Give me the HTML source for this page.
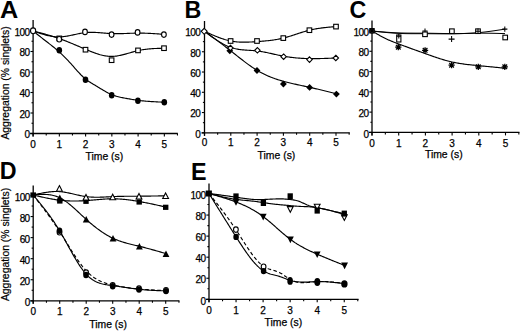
<!DOCTYPE html>
<html><head><meta charset="utf-8"><title>Aggregation figure</title>
<style>
html,body{margin:0;padding:0;background:#fff;width:520px;height:331px;overflow:hidden}
svg{display:block}
text{font-family:"Liberation Sans", sans-serif;fill:#000}
.tk{font-size:10px;stroke:#000;stroke-width:0.25px}
.tl{font-size:10.4px;stroke:#000;stroke-width:0.25px}
.yt{font-size:10.4px;stroke:#000;stroke-width:0.2px}
.lt{font-size:23.3px;font-weight:bold}
</style></head>
<body>
<svg width="520" height="331" viewBox="0 0 520 331">
<rect width="520" height="331" fill="#fff"/>
<line x1="33.1" y1="20" x2="33.1" y2="136.5" stroke="#000" stroke-width="1.3"/>
<line x1="30.1" y1="133.5" x2="177.8" y2="133.5" stroke="#000" stroke-width="1.3"/>
<line x1="30.5" y1="133.5" x2="33.1" y2="133.5" stroke="#000" stroke-width="1.1"/>
<line x1="31.5" y1="123.25" x2="33.1" y2="123.25" stroke="#000" stroke-width="1.1"/>
<line x1="30.5" y1="113" x2="33.1" y2="113" stroke="#000" stroke-width="1.1"/>
<line x1="31.5" y1="102.75" x2="33.1" y2="102.75" stroke="#000" stroke-width="1.1"/>
<line x1="30.5" y1="92.5" x2="33.1" y2="92.5" stroke="#000" stroke-width="1.1"/>
<line x1="31.5" y1="82.25" x2="33.1" y2="82.25" stroke="#000" stroke-width="1.1"/>
<line x1="30.5" y1="72" x2="33.1" y2="72" stroke="#000" stroke-width="1.1"/>
<line x1="31.5" y1="61.75" x2="33.1" y2="61.75" stroke="#000" stroke-width="1.1"/>
<line x1="30.5" y1="51.5" x2="33.1" y2="51.5" stroke="#000" stroke-width="1.1"/>
<line x1="31.5" y1="41.25" x2="33.1" y2="41.25" stroke="#000" stroke-width="1.1"/>
<line x1="30.5" y1="31" x2="33.1" y2="31" stroke="#000" stroke-width="1.1"/>
<line x1="33.1" y1="133.5" x2="33.1" y2="136.5" stroke="#000" stroke-width="1.1"/>
<line x1="46.23" y1="133.5" x2="46.23" y2="135.5" stroke="#000" stroke-width="1.1"/>
<line x1="59.35" y1="133.5" x2="59.35" y2="136.5" stroke="#000" stroke-width="1.1"/>
<line x1="72.47" y1="133.5" x2="72.47" y2="135.5" stroke="#000" stroke-width="1.1"/>
<line x1="85.6" y1="133.5" x2="85.6" y2="136.5" stroke="#000" stroke-width="1.1"/>
<line x1="98.72" y1="133.5" x2="98.72" y2="135.5" stroke="#000" stroke-width="1.1"/>
<line x1="111.85" y1="133.5" x2="111.85" y2="136.5" stroke="#000" stroke-width="1.1"/>
<line x1="124.97" y1="133.5" x2="124.97" y2="135.5" stroke="#000" stroke-width="1.1"/>
<line x1="138.1" y1="133.5" x2="138.1" y2="136.5" stroke="#000" stroke-width="1.1"/>
<line x1="151.22" y1="133.5" x2="151.22" y2="135.5" stroke="#000" stroke-width="1.1"/>
<line x1="164.35" y1="133.5" x2="164.35" y2="136.5" stroke="#000" stroke-width="1.1"/>
<line x1="177.47" y1="133.5" x2="177.47" y2="135.5" stroke="#000" stroke-width="1.1"/>
<text x="29.5" y="138.3" text-anchor="end" class="tk" letter-spacing="-0.6">0</text>
<text x="29.5" y="117.8" text-anchor="end" class="tk" letter-spacing="-0.6">20</text>
<text x="29.5" y="97.3" text-anchor="end" class="tk" letter-spacing="-0.6">40</text>
<text x="29.5" y="76.8" text-anchor="end" class="tk" letter-spacing="-0.6">60</text>
<text x="29.5" y="56.3" text-anchor="end" class="tk" letter-spacing="-0.6">80</text>
<text x="29.5" y="35.8" text-anchor="end" class="tk" letter-spacing="-0.6">100</text>
<text x="33.1" y="147.7" text-anchor="middle" class="tk">0</text>
<text x="59.35" y="147.7" text-anchor="middle" class="tk">1</text>
<text x="85.6" y="147.7" text-anchor="middle" class="tk">2</text>
<text x="111.85" y="147.7" text-anchor="middle" class="tk">3</text>
<text x="138.1" y="147.7" text-anchor="middle" class="tk">4</text>
<text x="164.35" y="147.7" text-anchor="middle" class="tk">5</text>
<text x="104.35" y="160.4" text-anchor="middle" class="tl">Time (s)</text>
<text x="0" y="18" class="lt" transform="scale(1.085 1)">A</text>
<text transform="translate(9 83) rotate(-90)" text-anchor="middle" class="yt">Aggregation (% singlets)</text>
<line x1="204.5" y1="21" x2="204.5" y2="135.8" stroke="#000" stroke-width="1.3"/>
<line x1="201.5" y1="132.8" x2="349.8" y2="132.8" stroke="#000" stroke-width="1.3"/>
<line x1="201.9" y1="132.8" x2="204.5" y2="132.8" stroke="#000" stroke-width="1.1"/>
<line x1="202.9" y1="122.67" x2="204.5" y2="122.67" stroke="#000" stroke-width="1.1"/>
<line x1="201.9" y1="112.54" x2="204.5" y2="112.54" stroke="#000" stroke-width="1.1"/>
<line x1="202.9" y1="102.41" x2="204.5" y2="102.41" stroke="#000" stroke-width="1.1"/>
<line x1="201.9" y1="92.28" x2="204.5" y2="92.28" stroke="#000" stroke-width="1.1"/>
<line x1="202.9" y1="82.15" x2="204.5" y2="82.15" stroke="#000" stroke-width="1.1"/>
<line x1="201.9" y1="72.02" x2="204.5" y2="72.02" stroke="#000" stroke-width="1.1"/>
<line x1="202.9" y1="61.89" x2="204.5" y2="61.89" stroke="#000" stroke-width="1.1"/>
<line x1="201.9" y1="51.76" x2="204.5" y2="51.76" stroke="#000" stroke-width="1.1"/>
<line x1="202.9" y1="41.63" x2="204.5" y2="41.63" stroke="#000" stroke-width="1.1"/>
<line x1="201.9" y1="31.5" x2="204.5" y2="31.5" stroke="#000" stroke-width="1.1"/>
<line x1="204.5" y1="132.8" x2="204.5" y2="135.8" stroke="#000" stroke-width="1.1"/>
<line x1="217.65" y1="132.8" x2="217.65" y2="134.8" stroke="#000" stroke-width="1.1"/>
<line x1="230.8" y1="132.8" x2="230.8" y2="135.8" stroke="#000" stroke-width="1.1"/>
<line x1="243.95" y1="132.8" x2="243.95" y2="134.8" stroke="#000" stroke-width="1.1"/>
<line x1="257.1" y1="132.8" x2="257.1" y2="135.8" stroke="#000" stroke-width="1.1"/>
<line x1="270.25" y1="132.8" x2="270.25" y2="134.8" stroke="#000" stroke-width="1.1"/>
<line x1="283.4" y1="132.8" x2="283.4" y2="135.8" stroke="#000" stroke-width="1.1"/>
<line x1="296.55" y1="132.8" x2="296.55" y2="134.8" stroke="#000" stroke-width="1.1"/>
<line x1="309.7" y1="132.8" x2="309.7" y2="135.8" stroke="#000" stroke-width="1.1"/>
<line x1="322.85" y1="132.8" x2="322.85" y2="134.8" stroke="#000" stroke-width="1.1"/>
<line x1="336" y1="132.8" x2="336" y2="135.8" stroke="#000" stroke-width="1.1"/>
<line x1="349.15" y1="132.8" x2="349.15" y2="134.8" stroke="#000" stroke-width="1.1"/>
<text x="200.2" y="137.7" text-anchor="end" class="tk" letter-spacing="-0.6">0</text>
<text x="200.2" y="117.44" text-anchor="end" class="tk" letter-spacing="-0.6">20</text>
<text x="200.2" y="97.18" text-anchor="end" class="tk" letter-spacing="-0.6">40</text>
<text x="200.2" y="76.92" text-anchor="end" class="tk" letter-spacing="-0.6">60</text>
<text x="200.2" y="56.66" text-anchor="end" class="tk" letter-spacing="-0.6">80</text>
<text x="200.2" y="36.4" text-anchor="end" class="tk" letter-spacing="-0.6">100</text>
<text x="204.5" y="145.7" text-anchor="middle" class="tk">0</text>
<text x="230.8" y="145.7" text-anchor="middle" class="tk">1</text>
<text x="257.1" y="145.7" text-anchor="middle" class="tk">2</text>
<text x="283.4" y="145.7" text-anchor="middle" class="tk">3</text>
<text x="309.7" y="145.7" text-anchor="middle" class="tk">4</text>
<text x="336" y="145.7" text-anchor="middle" class="tk">5</text>
<text x="276.45" y="159" text-anchor="middle" class="tl">Time (s)</text>
<text x="184.5" y="17.6" class="lt">B</text>
<line x1="372" y1="20.6" x2="372" y2="135.4" stroke="#000" stroke-width="1.3"/>
<line x1="369" y1="132.4" x2="519.5" y2="132.4" stroke="#000" stroke-width="1.3"/>
<line x1="369.4" y1="132.4" x2="372" y2="132.4" stroke="#000" stroke-width="1.1"/>
<line x1="370.4" y1="122.26" x2="372" y2="122.26" stroke="#000" stroke-width="1.1"/>
<line x1="369.4" y1="112.12" x2="372" y2="112.12" stroke="#000" stroke-width="1.1"/>
<line x1="370.4" y1="101.98" x2="372" y2="101.98" stroke="#000" stroke-width="1.1"/>
<line x1="369.4" y1="91.84" x2="372" y2="91.84" stroke="#000" stroke-width="1.1"/>
<line x1="370.4" y1="81.7" x2="372" y2="81.7" stroke="#000" stroke-width="1.1"/>
<line x1="369.4" y1="71.56" x2="372" y2="71.56" stroke="#000" stroke-width="1.1"/>
<line x1="370.4" y1="61.42" x2="372" y2="61.42" stroke="#000" stroke-width="1.1"/>
<line x1="369.4" y1="51.28" x2="372" y2="51.28" stroke="#000" stroke-width="1.1"/>
<line x1="370.4" y1="41.14" x2="372" y2="41.14" stroke="#000" stroke-width="1.1"/>
<line x1="369.4" y1="31" x2="372" y2="31" stroke="#000" stroke-width="1.1"/>
<line x1="372" y1="132.4" x2="372" y2="135.4" stroke="#000" stroke-width="1.1"/>
<line x1="385.35" y1="132.4" x2="385.35" y2="134.4" stroke="#000" stroke-width="1.1"/>
<line x1="398.7" y1="132.4" x2="398.7" y2="135.4" stroke="#000" stroke-width="1.1"/>
<line x1="412.05" y1="132.4" x2="412.05" y2="134.4" stroke="#000" stroke-width="1.1"/>
<line x1="425.4" y1="132.4" x2="425.4" y2="135.4" stroke="#000" stroke-width="1.1"/>
<line x1="438.75" y1="132.4" x2="438.75" y2="134.4" stroke="#000" stroke-width="1.1"/>
<line x1="452.1" y1="132.4" x2="452.1" y2="135.4" stroke="#000" stroke-width="1.1"/>
<line x1="465.45" y1="132.4" x2="465.45" y2="134.4" stroke="#000" stroke-width="1.1"/>
<line x1="478.8" y1="132.4" x2="478.8" y2="135.4" stroke="#000" stroke-width="1.1"/>
<line x1="492.15" y1="132.4" x2="492.15" y2="134.4" stroke="#000" stroke-width="1.1"/>
<line x1="505.5" y1="132.4" x2="505.5" y2="135.4" stroke="#000" stroke-width="1.1"/>
<line x1="518.85" y1="132.4" x2="518.85" y2="134.4" stroke="#000" stroke-width="1.1"/>
<text x="368.4" y="137.5" text-anchor="end" class="tk" letter-spacing="-0.6">0</text>
<text x="368.4" y="117.22" text-anchor="end" class="tk" letter-spacing="-0.6">20</text>
<text x="368.4" y="96.94" text-anchor="end" class="tk" letter-spacing="-0.6">40</text>
<text x="368.4" y="76.66" text-anchor="end" class="tk" letter-spacing="-0.6">60</text>
<text x="368.4" y="56.38" text-anchor="end" class="tk" letter-spacing="-0.6">80</text>
<text x="368.4" y="36.1" text-anchor="end" class="tk" letter-spacing="-0.6">100</text>
<text x="372" y="146.5" text-anchor="middle" class="tk">0</text>
<text x="398.7" y="146.5" text-anchor="middle" class="tk">1</text>
<text x="425.4" y="146.5" text-anchor="middle" class="tk">2</text>
<text x="452.1" y="146.5" text-anchor="middle" class="tk">3</text>
<text x="478.8" y="146.5" text-anchor="middle" class="tk">4</text>
<text x="505.5" y="146.5" text-anchor="middle" class="tk">5</text>
<text x="443.8" y="157.5" text-anchor="middle" class="tl">Time (s)</text>
<text x="349.5" y="18" class="lt">C</text>
<line x1="33.2" y1="185.4" x2="33.2" y2="303.8" stroke="#000" stroke-width="1.3"/>
<line x1="30.2" y1="300.8" x2="179.4" y2="300.8" stroke="#000" stroke-width="1.3"/>
<line x1="30.6" y1="300.8" x2="33.2" y2="300.8" stroke="#000" stroke-width="1.1"/>
<line x1="31.6" y1="290.27" x2="33.2" y2="290.27" stroke="#000" stroke-width="1.1"/>
<line x1="30.6" y1="279.74" x2="33.2" y2="279.74" stroke="#000" stroke-width="1.1"/>
<line x1="31.6" y1="269.21" x2="33.2" y2="269.21" stroke="#000" stroke-width="1.1"/>
<line x1="30.6" y1="258.68" x2="33.2" y2="258.68" stroke="#000" stroke-width="1.1"/>
<line x1="31.6" y1="248.15" x2="33.2" y2="248.15" stroke="#000" stroke-width="1.1"/>
<line x1="30.6" y1="237.62" x2="33.2" y2="237.62" stroke="#000" stroke-width="1.1"/>
<line x1="31.6" y1="227.09" x2="33.2" y2="227.09" stroke="#000" stroke-width="1.1"/>
<line x1="30.6" y1="216.56" x2="33.2" y2="216.56" stroke="#000" stroke-width="1.1"/>
<line x1="31.6" y1="206.03" x2="33.2" y2="206.03" stroke="#000" stroke-width="1.1"/>
<line x1="30.6" y1="195.5" x2="33.2" y2="195.5" stroke="#000" stroke-width="1.1"/>
<line x1="33.2" y1="300.8" x2="33.2" y2="303.8" stroke="#000" stroke-width="1.1"/>
<line x1="46.45" y1="300.8" x2="46.45" y2="302.8" stroke="#000" stroke-width="1.1"/>
<line x1="59.7" y1="300.8" x2="59.7" y2="303.8" stroke="#000" stroke-width="1.1"/>
<line x1="72.95" y1="300.8" x2="72.95" y2="302.8" stroke="#000" stroke-width="1.1"/>
<line x1="86.2" y1="300.8" x2="86.2" y2="303.8" stroke="#000" stroke-width="1.1"/>
<line x1="99.45" y1="300.8" x2="99.45" y2="302.8" stroke="#000" stroke-width="1.1"/>
<line x1="112.7" y1="300.8" x2="112.7" y2="303.8" stroke="#000" stroke-width="1.1"/>
<line x1="125.95" y1="300.8" x2="125.95" y2="302.8" stroke="#000" stroke-width="1.1"/>
<line x1="139.2" y1="300.8" x2="139.2" y2="303.8" stroke="#000" stroke-width="1.1"/>
<line x1="152.45" y1="300.8" x2="152.45" y2="302.8" stroke="#000" stroke-width="1.1"/>
<line x1="165.7" y1="300.8" x2="165.7" y2="303.8" stroke="#000" stroke-width="1.1"/>
<line x1="178.95" y1="300.8" x2="178.95" y2="302.8" stroke="#000" stroke-width="1.1"/>
<text x="29.6" y="306" text-anchor="end" class="tk" letter-spacing="-0.6">0</text>
<text x="29.6" y="284.94" text-anchor="end" class="tk" letter-spacing="-0.6">20</text>
<text x="29.6" y="263.88" text-anchor="end" class="tk" letter-spacing="-0.6">40</text>
<text x="29.6" y="242.82" text-anchor="end" class="tk" letter-spacing="-0.6">60</text>
<text x="29.6" y="221.76" text-anchor="end" class="tk" letter-spacing="-0.6">80</text>
<text x="29.6" y="200.7" text-anchor="end" class="tk" letter-spacing="-0.6">100</text>
<text x="33.2" y="314.9" text-anchor="middle" class="tk">0</text>
<text x="59.7" y="314.9" text-anchor="middle" class="tk">1</text>
<text x="86.2" y="314.9" text-anchor="middle" class="tk">2</text>
<text x="112.7" y="314.9" text-anchor="middle" class="tk">3</text>
<text x="139.2" y="314.9" text-anchor="middle" class="tk">4</text>
<text x="165.7" y="314.9" text-anchor="middle" class="tk">5</text>
<text x="108.1" y="327.9" text-anchor="middle" class="tl">Time (s)</text>
<text x="-0.2" y="178.7" class="lt">D</text>
<text transform="translate(9 244.5) rotate(-90)" text-anchor="middle" class="yt">Aggregation (% singlets)</text>
<line x1="209" y1="183.6" x2="209" y2="302.3" stroke="#000" stroke-width="1.3"/>
<line x1="206" y1="299.3" x2="358.6" y2="299.3" stroke="#000" stroke-width="1.3"/>
<line x1="206.4" y1="299.3" x2="209" y2="299.3" stroke="#000" stroke-width="1.1"/>
<line x1="207.4" y1="288.77" x2="209" y2="288.77" stroke="#000" stroke-width="1.1"/>
<line x1="206.4" y1="278.24" x2="209" y2="278.24" stroke="#000" stroke-width="1.1"/>
<line x1="207.4" y1="267.71" x2="209" y2="267.71" stroke="#000" stroke-width="1.1"/>
<line x1="206.4" y1="257.18" x2="209" y2="257.18" stroke="#000" stroke-width="1.1"/>
<line x1="207.4" y1="246.65" x2="209" y2="246.65" stroke="#000" stroke-width="1.1"/>
<line x1="206.4" y1="236.12" x2="209" y2="236.12" stroke="#000" stroke-width="1.1"/>
<line x1="207.4" y1="225.59" x2="209" y2="225.59" stroke="#000" stroke-width="1.1"/>
<line x1="206.4" y1="215.06" x2="209" y2="215.06" stroke="#000" stroke-width="1.1"/>
<line x1="207.4" y1="204.53" x2="209" y2="204.53" stroke="#000" stroke-width="1.1"/>
<line x1="206.4" y1="194" x2="209" y2="194" stroke="#000" stroke-width="1.1"/>
<line x1="209" y1="299.3" x2="209" y2="302.3" stroke="#000" stroke-width="1.1"/>
<line x1="222.53" y1="299.3" x2="222.53" y2="301.3" stroke="#000" stroke-width="1.1"/>
<line x1="236.05" y1="299.3" x2="236.05" y2="302.3" stroke="#000" stroke-width="1.1"/>
<line x1="249.57" y1="299.3" x2="249.57" y2="301.3" stroke="#000" stroke-width="1.1"/>
<line x1="263.1" y1="299.3" x2="263.1" y2="302.3" stroke="#000" stroke-width="1.1"/>
<line x1="276.62" y1="299.3" x2="276.62" y2="301.3" stroke="#000" stroke-width="1.1"/>
<line x1="290.15" y1="299.3" x2="290.15" y2="302.3" stroke="#000" stroke-width="1.1"/>
<line x1="303.68" y1="299.3" x2="303.68" y2="301.3" stroke="#000" stroke-width="1.1"/>
<line x1="317.2" y1="299.3" x2="317.2" y2="302.3" stroke="#000" stroke-width="1.1"/>
<line x1="330.73" y1="299.3" x2="330.73" y2="301.3" stroke="#000" stroke-width="1.1"/>
<line x1="344.25" y1="299.3" x2="344.25" y2="302.3" stroke="#000" stroke-width="1.1"/>
<line x1="357.77" y1="299.3" x2="357.77" y2="301.3" stroke="#000" stroke-width="1.1"/>
<text x="205.4" y="304.5" text-anchor="end" class="tk" letter-spacing="-0.6">0</text>
<text x="205.4" y="283.44" text-anchor="end" class="tk" letter-spacing="-0.6">20</text>
<text x="205.4" y="262.38" text-anchor="end" class="tk" letter-spacing="-0.6">40</text>
<text x="205.4" y="241.32" text-anchor="end" class="tk" letter-spacing="-0.6">60</text>
<text x="205.4" y="220.26" text-anchor="end" class="tk" letter-spacing="-0.6">80</text>
<text x="205.4" y="199.2" text-anchor="end" class="tk" letter-spacing="-0.6">100</text>
<text x="209" y="313.7" text-anchor="middle" class="tk">0</text>
<text x="236.05" y="313.7" text-anchor="middle" class="tk">1</text>
<text x="263.1" y="313.7" text-anchor="middle" class="tk">2</text>
<text x="290.15" y="313.7" text-anchor="middle" class="tk">3</text>
<text x="317.2" y="313.7" text-anchor="middle" class="tk">4</text>
<text x="344.25" y="313.7" text-anchor="middle" class="tk">5</text>
<text x="283.35" y="325.6" text-anchor="middle" class="tl">Time (s)</text>
<text x="191" y="179.7" class="lt">E</text>
<path d="M33.1 31 L34.1 31.35 L35.1 31.69 L36.11 32.03 L37.11 32.37 L38.11 32.71 L39.11 33.03 L40.11 33.36 L41.12 33.67 L42.12 33.98 L43.12 34.28 L44.12 34.57 L45.12 34.84 L46.12 35.11 L47.13 35.36 L48.13 35.59 L49.13 35.81 L50.13 36.01 L51.13 36.2 L52.14 36.36 L53.14 36.51 L54.14 36.63 L55.14 36.73 L56.14 36.81 L57.15 36.87 L58.15 36.9 L59.15 36.9 L60.15 36.88 L61.15 36.83 L62.16 36.76 L63.16 36.66 L64.16 36.54 L65.16 36.41 L66.16 36.26 L67.16 36.09 L68.17 35.91 L69.17 35.72 L70.17 35.52 L71.17 35.31 L72.17 35.1 L73.18 34.88 L74.18 34.66 L75.18 34.44 L76.18 34.22 L77.18 34.01 L78.19 33.8 L79.19 33.6 L80.19 33.4 L81.19 33.22 L82.19 33.05 L83.2 32.9 L84.2 32.76 L85.2 32.64 L86.2 32.54 L87.2 32.46 L88.2 32.41 L89.21 32.36 L90.21 32.34 L91.21 32.33 L92.21 32.33 L93.21 32.35 L94.22 32.38 L95.22 32.42 L96.22 32.47 L97.22 32.53 L98.22 32.6 L99.23 32.67 L100.23 32.75 L101.23 32.83 L102.23 32.91 L103.23 33 L104.24 33.08 L105.24 33.16 L106.24 33.24 L107.24 33.32 L108.24 33.39 L109.25 33.46 L110.25 33.52 L111.25 33.57 L112.25 33.62 L113.25 33.65 L114.25 33.67 L115.26 33.69 L116.26 33.69 L117.26 33.69 L118.26 33.68 L119.26 33.67 L120.27 33.65 L121.27 33.63 L122.27 33.6 L123.27 33.57 L124.27 33.53 L125.28 33.5 L126.28 33.46 L127.28 33.42 L128.28 33.38 L129.28 33.34 L130.29 33.3 L131.29 33.26 L132.29 33.23 L133.29 33.2 L134.29 33.17 L135.29 33.14 L136.3 33.12 L137.3 33.11 L138.3 33.1 L139.3 33.1 L140.3 33.1 L141.31 33.11 L142.31 33.13 L143.31 33.15 L144.31 33.17 L145.31 33.2 L146.32 33.24 L147.32 33.28 L148.32 33.32 L149.32 33.37 L150.32 33.42 L151.33 33.48 L152.33 33.54 L153.33 33.6 L154.33 33.66 L155.33 33.73 L156.33 33.8 L157.34 33.87 L158.34 33.94 L159.34 34.02 L160.34 34.09 L161.34 34.17 L162.35 34.24 L163.35 34.32 L164.35 34.4" fill="none" stroke="#000" stroke-width="1.15" stroke-linejoin="round"/>
<path d="M33.1 31 L34.1 31.26 L35.1 31.52 L36.11 31.78 L37.11 32.04 L38.11 32.3 L39.11 32.56 L40.11 32.83 L41.12 33.09 L42.12 33.36 L43.12 33.63 L44.12 33.91 L45.12 34.18 L46.12 34.46 L47.13 34.75 L48.13 35.03 L49.13 35.32 L50.13 35.62 L51.13 35.92 L52.14 36.23 L53.14 36.54 L54.14 36.85 L55.14 37.18 L56.14 37.51 L57.15 37.84 L58.15 38.18 L59.15 38.53 L60.15 38.88 L61.15 39.25 L62.16 39.62 L63.16 39.99 L64.16 40.37 L65.16 40.76 L66.16 41.15 L67.16 41.55 L68.17 41.95 L69.17 42.35 L70.17 42.76 L71.17 43.18 L72.17 43.59 L73.18 44.01 L74.18 44.43 L75.18 44.85 L76.18 45.28 L77.18 45.71 L78.19 46.13 L79.19 46.56 L80.19 46.99 L81.19 47.42 L82.19 47.85 L83.2 48.28 L84.2 48.7 L85.2 49.13 L86.2 49.55 L87.2 49.98 L88.2 50.39 L89.21 50.81 L90.21 51.21 L91.21 51.62 L92.21 52.01 L93.21 52.39 L94.22 52.76 L95.22 53.12 L96.22 53.47 L97.22 53.81 L98.22 54.13 L99.23 54.43 L100.23 54.72 L101.23 54.98 L102.23 55.23 L103.23 55.46 L104.24 55.67 L105.24 55.85 L106.24 56.01 L107.24 56.14 L108.24 56.25 L109.25 56.33 L110.25 56.38 L111.25 56.4 L112.25 56.39 L113.25 56.35 L114.25 56.28 L115.26 56.19 L116.26 56.06 L117.26 55.92 L118.26 55.75 L119.26 55.56 L120.27 55.36 L121.27 55.14 L122.27 54.9 L123.27 54.65 L124.27 54.39 L125.28 54.12 L126.28 53.84 L127.28 53.55 L128.28 53.26 L129.28 52.97 L130.29 52.68 L131.29 52.39 L132.29 52.11 L133.29 51.83 L134.29 51.55 L135.29 51.28 L136.3 51.03 L137.3 50.79 L138.3 50.56 L139.3 50.34 L140.3 50.14 L141.31 49.95 L142.31 49.78 L143.31 49.62 L144.31 49.47 L145.31 49.34 L146.32 49.21 L147.32 49.1 L148.32 48.99 L149.32 48.9 L150.32 48.81 L151.33 48.74 L152.33 48.66 L153.33 48.6 L154.33 48.54 L155.33 48.49 L156.33 48.45 L157.34 48.41 L158.34 48.37 L159.34 48.34 L160.34 48.31 L161.34 48.28 L162.35 48.25 L163.35 48.22 L164.35 48.2" fill="none" stroke="#000" stroke-width="1.15" stroke-linejoin="round"/>
<path d="M33.1 31 L34.1 31.8 L35.1 32.6 L36.1 33.39 L37.11 34.19 L38.11 34.98 L39.11 35.78 L40.11 36.57 L41.11 37.36 L42.11 38.15 L43.12 38.93 L44.12 39.71 L45.12 40.49 L46.12 41.27 L47.12 42.04 L48.12 42.82 L49.12 43.59 L50.13 44.37 L51.13 45.16 L52.13 45.95 L53.13 46.75 L54.13 47.56 L55.13 48.38 L56.14 49.22 L57.14 50.07 L58.14 50.94 L59.14 51.82 L60.14 52.73 L61.14 53.66 L62.14 54.6 L63.15 55.57 L64.15 56.56 L65.15 57.57 L66.15 58.59 L67.15 59.63 L68.15 60.69 L69.15 61.77 L70.16 62.87 L71.16 63.98 L72.16 65.1 L73.16 66.23 L74.16 67.37 L75.16 68.51 L76.17 69.64 L77.17 70.76 L78.17 71.87 L79.17 72.95 L80.17 74.01 L81.17 75.04 L82.17 76.03 L83.18 76.99 L84.18 77.89 L85.18 78.75 L86.18 79.55 L87.18 80.31 L88.18 81.02 L89.19 81.7 L90.19 82.35 L91.19 82.98 L92.19 83.58 L93.19 84.18 L94.19 84.77 L95.19 85.36 L96.2 85.96 L97.2 86.56 L98.2 87.17 L99.2 87.78 L100.2 88.39 L101.2 89 L102.21 89.6 L103.21 90.2 L104.21 90.78 L105.21 91.36 L106.21 91.91 L107.21 92.45 L108.21 92.98 L109.22 93.47 L110.22 93.95 L111.22 94.4 L112.22 94.81 L113.22 95.2 L114.22 95.56 L115.23 95.89 L116.23 96.2 L117.23 96.49 L118.23 96.76 L119.23 97.01 L120.23 97.24 L121.23 97.46 L122.24 97.67 L123.24 97.87 L124.24 98.06 L125.24 98.24 L126.24 98.41 L127.24 98.59 L128.25 98.76 L129.25 98.94 L130.25 99.11 L131.25 99.28 L132.25 99.45 L133.25 99.61 L134.25 99.77 L135.26 99.92 L136.26 100.07 L137.26 100.21 L138.26 100.35 L139.26 100.48 L140.26 100.6 L141.26 100.71 L142.27 100.82 L143.27 100.93 L144.27 101.02 L145.27 101.12 L146.27 101.2 L147.27 101.29 L148.28 101.36 L149.28 101.44 L150.28 101.51 L151.28 101.57 L152.28 101.63 L153.28 101.69 L154.28 101.75 L155.29 101.8 L156.29 101.85 L157.29 101.9 L158.29 101.95 L159.29 101.99 L160.29 102.03 L161.3 102.08 L162.3 102.12 L163.3 102.16 L164.3 102.2" fill="none" stroke="#000" stroke-width="1.15" stroke-linejoin="round"/>
<rect x="57" y="36.1" width="4.6" height="4.6" fill="#fff" stroke="#000" stroke-width="1.1"/>
<rect x="83.2" y="47.4" width="4.6" height="4.6" fill="#fff" stroke="#000" stroke-width="1.1"/>
<rect x="109.3" y="57.9" width="4.6" height="4.6" fill="#fff" stroke="#000" stroke-width="1.1"/>
<rect x="135.7" y="48.1" width="4.6" height="4.6" fill="#fff" stroke="#000" stroke-width="1.1"/>
<rect x="161.7" y="45.9" width="4.6" height="4.6" fill="#fff" stroke="#000" stroke-width="1.1"/>
<ellipse cx="59.2" cy="39.2" rx="2.35" ry="2.75" fill="#fff" stroke="#000" stroke-width="1.1"/>
<ellipse cx="85" cy="31.9" rx="2.35" ry="2.75" fill="#fff" stroke="#000" stroke-width="1.1"/>
<ellipse cx="111.6" cy="34.6" rx="2.35" ry="2.75" fill="#fff" stroke="#000" stroke-width="1.1"/>
<ellipse cx="137.6" cy="32.4" rx="2.35" ry="2.75" fill="#fff" stroke="#000" stroke-width="1.1"/>
<ellipse cx="163.9" cy="34.6" rx="2.35" ry="2.75" fill="#fff" stroke="#000" stroke-width="1.1"/>
<ellipse cx="59.3" cy="50.3" rx="2.8" ry="3.2" fill="#000"/>
<ellipse cx="85.5" cy="79.7" rx="2.8" ry="3.2" fill="#000"/>
<ellipse cx="111.7" cy="95.3" rx="2.8" ry="3.2" fill="#000"/>
<ellipse cx="137.9" cy="100.7" rx="2.8" ry="3.2" fill="#000"/>
<ellipse cx="164.3" cy="102.3" rx="2.8" ry="3.2" fill="#000"/>
<ellipse cx="33.1" cy="30.8" rx="2.6" ry="2.9" fill="#fff" stroke="#000" stroke-width="1.1"/>
<path d="M204.5 31.3 L205.5 31.76 L206.51 32.22 L207.51 32.67 L208.52 33.13 L209.52 33.58 L210.52 34.03 L211.53 34.47 L212.53 34.91 L213.53 35.34 L214.54 35.77 L215.54 36.18 L216.55 36.59 L217.55 36.99 L218.55 37.38 L219.56 37.76 L220.56 38.13 L221.56 38.48 L222.57 38.82 L223.57 39.15 L224.58 39.47 L225.58 39.76 L226.58 40.05 L227.59 40.31 L228.59 40.56 L229.6 40.79 L230.6 41 L231.6 41.19 L232.61 41.36 L233.61 41.52 L234.61 41.65 L235.62 41.77 L236.62 41.87 L237.63 41.96 L238.63 42.03 L239.63 42.09 L240.64 42.13 L241.64 42.16 L242.65 42.18 L243.65 42.19 L244.65 42.19 L245.66 42.18 L246.66 42.16 L247.66 42.13 L248.67 42.09 L249.67 42.05 L250.68 42 L251.68 41.95 L252.68 41.89 L253.69 41.83 L254.69 41.76 L255.69 41.69 L256.7 41.62 L257.7 41.55 L258.71 41.48 L259.71 41.4 L260.71 41.33 L261.72 41.25 L262.72 41.17 L263.73 41.08 L264.73 40.99 L265.73 40.9 L266.74 40.8 L267.74 40.7 L268.74 40.59 L269.75 40.48 L270.75 40.36 L271.76 40.23 L272.76 40.09 L273.76 39.95 L274.77 39.8 L275.77 39.64 L276.77 39.47 L277.78 39.29 L278.78 39.1 L279.79 38.89 L280.79 38.68 L281.79 38.46 L282.8 38.22 L283.8 37.97 L284.81 37.71 L285.81 37.44 L286.81 37.16 L287.82 36.87 L288.82 36.57 L289.82 36.26 L290.83 35.95 L291.83 35.63 L292.84 35.3 L293.84 34.98 L294.84 34.65 L295.85 34.32 L296.85 33.98 L297.85 33.65 L298.86 33.32 L299.86 33 L300.87 32.67 L301.87 32.35 L302.87 32.04 L303.88 31.73 L304.88 31.43 L305.89 31.14 L306.89 30.86 L307.89 30.59 L308.9 30.33 L309.9 30.08 L310.9 29.84 L311.91 29.62 L312.91 29.4 L313.92 29.2 L314.92 29.01 L315.92 28.83 L316.93 28.66 L317.93 28.5 L318.94 28.35 L319.94 28.2 L320.94 28.06 L321.95 27.93 L322.95 27.81 L323.95 27.69 L324.96 27.58 L325.96 27.48 L326.97 27.37 L327.97 27.28 L328.97 27.18 L329.98 27.09 L330.98 27.01 L331.98 26.92 L332.99 26.84 L333.99 26.76 L335 26.68 L336 26.6" fill="none" stroke="#000" stroke-width="1.15" stroke-linejoin="round"/>
<path d="M204.5 31.3 L205.5 32.05 L206.5 32.8 L207.51 33.55 L208.51 34.29 L209.51 35.03 L210.51 35.77 L211.52 36.49 L212.52 37.21 L213.52 37.92 L214.52 38.62 L215.53 39.31 L216.53 39.98 L217.53 40.64 L218.53 41.28 L219.53 41.91 L220.54 42.52 L221.54 43.1 L222.54 43.67 L223.54 44.22 L224.55 44.75 L225.55 45.25 L226.55 45.72 L227.55 46.17 L228.55 46.6 L229.56 46.99 L230.56 47.36 L231.56 47.69 L232.56 48 L233.57 48.27 L234.57 48.53 L235.57 48.75 L236.57 48.96 L237.58 49.14 L238.58 49.31 L239.58 49.46 L240.58 49.59 L241.58 49.71 L242.59 49.82 L243.59 49.91 L244.59 50 L245.59 50.08 L246.6 50.15 L247.6 50.22 L248.6 50.29 L249.6 50.35 L250.61 50.42 L251.61 50.48 L252.61 50.55 L253.61 50.63 L254.61 50.72 L255.62 50.81 L256.62 50.91 L257.62 51.03 L258.62 51.15 L259.63 51.3 L260.63 51.45 L261.63 51.61 L262.63 51.78 L263.64 51.96 L264.64 52.15 L265.64 52.35 L266.64 52.56 L267.64 52.77 L268.65 52.98 L269.65 53.2 L270.65 53.42 L271.65 53.64 L272.66 53.87 L273.66 54.1 L274.66 54.32 L275.66 54.55 L276.66 54.77 L277.67 54.99 L278.67 55.21 L279.67 55.42 L280.67 55.63 L281.68 55.83 L282.68 56.03 L283.68 56.21 L284.68 56.39 L285.69 56.57 L286.69 56.73 L287.69 56.89 L288.69 57.03 L289.69 57.17 L290.7 57.31 L291.7 57.43 L292.7 57.55 L293.7 57.66 L294.71 57.77 L295.71 57.86 L296.71 57.95 L297.71 58.04 L298.72 58.12 L299.72 58.19 L300.72 58.26 L301.72 58.32 L302.72 58.37 L303.73 58.42 L304.73 58.46 L305.73 58.5 L306.73 58.53 L307.74 58.56 L308.74 58.59 L309.74 58.6 L310.74 58.62 L311.75 58.63 L312.75 58.63 L313.75 58.63 L314.75 58.63 L315.75 58.63 L316.76 58.62 L317.76 58.6 L318.76 58.59 L319.76 58.57 L320.77 58.55 L321.77 58.52 L322.77 58.49 L323.77 58.47 L324.77 58.43 L325.78 58.4 L326.78 58.37 L327.78 58.33 L328.78 58.29 L329.79 58.25 L330.79 58.21 L331.79 58.17 L332.79 58.13 L333.8 58.09 L334.8 58.04 L335.8 58" fill="none" stroke="#000" stroke-width="1.15" stroke-linejoin="round"/>
<path d="M204.5 31.3 L205.51 32.03 L206.51 32.76 L207.52 33.5 L208.53 34.23 L209.53 34.96 L210.54 35.7 L211.55 36.43 L212.55 37.17 L213.56 37.91 L214.57 38.65 L215.58 39.39 L216.58 40.13 L217.59 40.88 L218.6 41.62 L219.6 42.37 L220.61 43.12 L221.62 43.88 L222.62 44.64 L223.63 45.4 L224.64 46.16 L225.64 46.93 L226.65 47.7 L227.66 48.47 L228.66 49.25 L229.67 50.03 L230.68 50.82 L231.69 51.61 L232.69 52.4 L233.7 53.2 L234.71 53.99 L235.71 54.79 L236.72 55.59 L237.73 56.39 L238.73 57.18 L239.74 57.97 L240.75 58.76 L241.75 59.55 L242.76 60.32 L243.77 61.1 L244.77 61.86 L245.78 62.62 L246.79 63.37 L247.8 64.11 L248.8 64.84 L249.81 65.56 L250.82 66.27 L251.82 66.96 L252.83 67.64 L253.84 68.31 L254.84 68.96 L255.85 69.6 L256.86 70.21 L257.86 70.81 L258.87 71.4 L259.88 71.96 L260.88 72.51 L261.89 73.04 L262.9 73.56 L263.91 74.06 L264.91 74.55 L265.92 75.02 L266.93 75.48 L267.93 75.92 L268.94 76.35 L269.95 76.77 L270.95 77.17 L271.96 77.56 L272.97 77.94 L273.97 78.31 L274.98 78.67 L275.99 79.02 L276.99 79.36 L278 79.69 L279.01 80.01 L280.02 80.32 L281.02 80.62 L282.03 80.91 L283.04 81.2 L284.04 81.48 L285.05 81.75 L286.06 82.02 L287.06 82.28 L288.07 82.53 L289.08 82.78 L290.08 83.02 L291.09 83.26 L292.1 83.5 L293.1 83.73 L294.11 83.96 L295.12 84.18 L296.13 84.41 L297.13 84.63 L298.14 84.85 L299.15 85.06 L300.15 85.28 L301.16 85.49 L302.17 85.7 L303.17 85.92 L304.18 86.13 L305.19 86.35 L306.19 86.56 L307.2 86.78 L308.21 87 L309.21 87.22 L310.22 87.44 L311.23 87.66 L312.24 87.89 L313.24 88.12 L314.25 88.35 L315.26 88.58 L316.26 88.82 L317.27 89.06 L318.28 89.3 L319.28 89.54 L320.29 89.78 L321.3 90.02 L322.3 90.27 L323.31 90.52 L324.32 90.76 L325.32 91.01 L326.33 91.26 L327.34 91.51 L328.35 91.77 L329.35 92.02 L330.36 92.27 L331.37 92.53 L332.37 92.78 L333.38 93.03 L334.39 93.29 L335.39 93.54 L336.4 93.8" fill="none" stroke="#000" stroke-width="1.15" stroke-linejoin="round"/>
<path d="M229.8 47.4L233.2 50.8L229.8 54.2L226.4 50.8Z" fill="#000"/>
<path d="M257 67.1L260.4 70.5L257 73.9L253.6 70.5Z" fill="#000"/>
<path d="M283.4 80.6L286.8 84L283.4 87.4L280 84Z" fill="#000"/>
<path d="M309.6 84L313 87.4L309.6 90.8L306.2 87.4Z" fill="#000"/>
<path d="M336.4 90.7L339.8 94.1L336.4 97.5L333 94.1Z" fill="#000"/>
<rect x="228.3" y="38.7" width="4.6" height="4.6" fill="#fff" stroke="#000" stroke-width="1.1"/>
<rect x="254.7" y="38.7" width="4.6" height="4.6" fill="#fff" stroke="#000" stroke-width="1.1"/>
<rect x="281" y="35.8" width="4.6" height="4.6" fill="#fff" stroke="#000" stroke-width="1.1"/>
<rect x="307.1" y="27.9" width="4.6" height="4.6" fill="#fff" stroke="#000" stroke-width="1.1"/>
<rect x="333.7" y="24.3" width="4.6" height="4.6" fill="#fff" stroke="#000" stroke-width="1.1"/>
<path d="M230.4 45.25L233.15 48L230.4 50.75L227.65 48Z" fill="#fff" stroke="#000" stroke-width="1.1"/>
<path d="M257.4 47.55L260.15 50.3L257.4 53.05L254.65 50.3Z" fill="#fff" stroke="#000" stroke-width="1.1"/>
<path d="M283.6 53.95L286.35 56.7L283.6 59.45L280.85 56.7Z" fill="#fff" stroke="#000" stroke-width="1.1"/>
<path d="M309.5 56.85L312.25 59.6L309.5 62.35L306.75 59.6Z" fill="#fff" stroke="#000" stroke-width="1.1"/>
<path d="M335.8 55.25L338.55 58L335.8 60.75L333.05 58Z" fill="#fff" stroke="#000" stroke-width="1.1"/>
<path d="M204.2 28.3L207.2 31.3L204.2 34.3L201.2 31.3Z" fill="#fff" stroke="#000" stroke-width="1.1"/>
<path d="M372 31 L373 31.11 L374 31.22 L375 31.33 L376 31.44 L377 31.55 L378 31.66 L379 31.77 L380 31.87 L381 31.98 L382 32.08 L383 32.18 L384 32.28 L385 32.38 L386 32.47 L387 32.56 L388 32.65 L389 32.74 L390 32.82 L391 32.9 L392 32.98 L393 33.05 L394 33.12 L395 33.19 L396 33.25 L397 33.31 L398 33.36 L399 33.41 L400 33.45 L401 33.49 L402 33.53 L403 33.56 L404 33.59 L405 33.61 L406 33.63 L407 33.65 L408 33.66 L409 33.67 L410 33.68 L411 33.69 L412 33.7 L413 33.7 L414 33.7 L415 33.7 L416 33.7 L417 33.7 L418 33.7 L419 33.7 L420 33.7 L421 33.7 L422 33.7 L423 33.7 L424 33.7 L425 33.7 L426 33.7 L427 33.71 L428 33.71 L429 33.72 L430 33.73 L431 33.74 L432 33.74 L433 33.75 L434 33.76 L435 33.77 L436 33.78 L437 33.79 L438 33.8 L439 33.81 L440 33.81 L441 33.82 L442 33.83 L443 33.83 L444 33.83 L445 33.84 L446 33.84 L447 33.84 L448 33.83 L449 33.83 L450 33.82 L451 33.81 L452 33.8 L453 33.78 L454 33.77 L455 33.75 L456 33.73 L457 33.71 L458 33.68 L459 33.66 L460 33.63 L461 33.6 L462 33.58 L463 33.55 L464 33.52 L465 33.49 L466 33.46 L467 33.43 L468 33.4 L469 33.38 L470 33.35 L471 33.33 L472 33.3 L473 33.28 L474 33.26 L475 33.24 L476 33.23 L477 33.21 L478 33.2 L479 33.19 L480 33.19 L481 33.18 L482 33.18 L483 33.18 L484 33.19 L485 33.19 L486 33.2 L487 33.21 L488 33.22 L489 33.23 L490 33.25 L491 33.27 L492 33.28 L493 33.3 L494 33.32 L495 33.34 L496 33.37 L497 33.39 L498 33.42 L499 33.44 L500 33.47 L501 33.49 L502 33.52 L503 33.55 L504 33.57 L505 33.6" fill="none" stroke="#000" stroke-width="1" stroke-linejoin="round"/>
<path d="M372 31 L373 31.09 L374 31.18 L375 31.26 L376 31.35 L377 31.44 L378 31.52 L379 31.61 L380 31.69 L381 31.77 L382 31.85 L383 31.93 L384 32.01 L385 32.09 L386 32.16 L387 32.24 L388 32.31 L389 32.38 L390 32.44 L391 32.51 L392 32.57 L393 32.63 L394 32.68 L395 32.73 L396 32.78 L397 32.83 L398 32.87 L399 32.91 L400 32.94 L401 32.97 L402 33 L403 33.03 L404 33.05 L405 33.07 L406 33.08 L407 33.1 L408 33.11 L409 33.12 L410 33.13 L411 33.14 L412 33.14 L413 33.15 L414 33.15 L415 33.16 L416 33.16 L417 33.16 L418 33.16 L419 33.17 L420 33.17 L421 33.17 L422 33.18 L423 33.18 L424 33.19 L425 33.2 L426 33.21 L427 33.22 L428 33.23 L429 33.25 L430 33.26 L431 33.28 L432 33.3 L433 33.31 L434 33.33 L435 33.35 L436 33.37 L437 33.39 L438 33.41 L439 33.43 L440 33.44 L441 33.46 L442 33.48 L443 33.5 L444 33.51 L445 33.53 L446 33.54 L447 33.56 L448 33.57 L449 33.58 L450 33.59 L451 33.6 L452 33.6 L453 33.6 L454 33.61 L455 33.6 L456 33.6 L457 33.6 L458 33.59 L459 33.58 L460 33.56 L461 33.55 L462 33.53 L463 33.5 L464 33.48 L465 33.45 L466 33.42 L467 33.38 L468 33.34 L469 33.29 L470 33.25 L471 33.19 L472 33.14 L473 33.08 L474 33.01 L475 32.94 L476 32.86 L477 32.78 L478 32.7 L479 32.61 L480 32.52 L481 32.42 L482 32.31 L483 32.2 L484 32.09 L485 31.97 L486 31.85 L487 31.73 L488 31.6 L489 31.47 L490 31.34 L491 31.2 L492 31.06 L493 30.92 L494 30.78 L495 30.63 L496 30.48 L497 30.33 L498 30.18 L499 30.03 L500 29.88 L501 29.72 L502 29.57 L503 29.41 L504 29.26 L505 29.1" fill="none" stroke="#000" stroke-width="1" stroke-linejoin="round"/>
<path d="M372 31 L373 31.6 L374 32.19 L375 32.78 L376 33.37 L377 33.96 L378 34.54 L379 35.11 L380 35.67 L381 36.22 L382 36.76 L383 37.29 L384 37.8 L385 38.3 L386 38.78 L387 39.25 L388 39.7 L389 40.15 L390 40.57 L391 40.99 L392 41.4 L393 41.8 L394 42.19 L395 42.58 L396 42.96 L397 43.34 L398 43.71 L399 44.09 L400 44.46 L401 44.83 L402 45.2 L403 45.56 L404 45.93 L405 46.3 L406 46.66 L407 47.03 L408 47.39 L409 47.75 L410 48.11 L411 48.48 L412 48.84 L413 49.2 L414 49.56 L415 49.92 L416 50.27 L417 50.63 L418 50.99 L419 51.35 L420 51.71 L421 52.07 L422 52.43 L423 52.78 L424 53.14 L425 53.5 L426 53.86 L427 54.22 L428 54.57 L429 54.93 L430 55.29 L431 55.64 L432 55.99 L433 56.34 L434 56.69 L435 57.03 L436 57.37 L437 57.71 L438 58.04 L439 58.36 L440 58.68 L441 59 L442 59.31 L443 59.61 L444 59.91 L445 60.2 L446 60.48 L447 60.75 L448 61.02 L449 61.28 L450 61.52 L451 61.76 L452 61.99 L453 62.21 L454 62.42 L455 62.62 L456 62.81 L457 62.99 L458 63.17 L459 63.33 L460 63.5 L461 63.65 L462 63.8 L463 63.94 L464 64.07 L465 64.2 L466 64.33 L467 64.45 L468 64.56 L469 64.68 L470 64.78 L471 64.89 L472 64.99 L473 65.09 L474 65.19 L475 65.29 L476 65.39 L477 65.49 L478 65.58 L479 65.68 L480 65.77 L481 65.87 L482 65.96 L483 66.06 L484 66.16 L485 66.25 L486 66.35 L487 66.45 L488 66.54 L489 66.64 L490 66.74 L491 66.84 L492 66.93 L493 67.03 L494 67.13 L495 67.22 L496 67.32 L497 67.42 L498 67.52 L499 67.61 L500 67.71 L501 67.81 L502 67.91 L503 68 L504 68.1 L505 68.2" fill="none" stroke="#000" stroke-width="1.15" stroke-linejoin="round"/>
<rect x="396.7" y="35" width="4.2" height="7" fill="#fff" stroke="#000" stroke-width="1.1"/>
<path d="M396.6 36.3H401M398.8 34.1V38.5" stroke="#000" stroke-width="1.05" fill="none"/>
<path d="M422.4 31H427.6M425 28.4V33.6" stroke="#000" stroke-width="1.05" fill="none"/>
<rect x="422.7" y="32" width="4.6" height="4.6" fill="#fff" stroke="#000" stroke-width="1.1"/>
<rect x="449.6" y="28.9" width="4.6" height="4.6" fill="#fff" stroke="#000" stroke-width="1.1"/>
<path d="M448.6 39.1H454.6M451.6 36.1V42.1" stroke="#000" stroke-width="1.05" fill="none"/>
<rect x="475.7" y="28.9" width="4.6" height="4.6" fill="#fff" stroke="#000" stroke-width="1.1"/>
<path d="M475.4 31.2H480.6M478 28.6V33.8" stroke="#000" stroke-width="1.05" fill="none"/>
<rect x="502.9" y="35.2" width="4.6" height="4.6" fill="#fff" stroke="#000" stroke-width="1.1"/>
<path d="M502.2 29.1H507.4M504.8 26.5V31.7" stroke="#000" stroke-width="1.05" fill="none"/>
<path d="M395.2 47.2H401.4M398.3 44.1V50.3M395.98 44.88L400.62 49.53M395.98 49.53L400.62 44.88" stroke="#000" stroke-width="1.25" fill="none"/>
<path d="M422 50.3H428.2M425.1 47.2V53.4M422.78 47.97L427.43 52.62M422.78 52.62L427.43 47.97" stroke="#000" stroke-width="1.25" fill="none"/>
<path d="M448.5 65.2H454.7M451.6 62.1V68.3M449.28 62.88L453.93 67.53M449.28 67.53L453.93 62.88" stroke="#000" stroke-width="1.25" fill="none"/>
<path d="M475.2 66.8H481.4M478.3 63.7V69.9M475.98 64.47L480.62 69.12M475.98 69.12L480.62 64.47" stroke="#000" stroke-width="1.25" fill="none"/>
<path d="M501.7 66.8H507.9M504.8 63.7V69.9M502.48 64.47L507.12 69.12M502.48 69.12L507.12 64.47" stroke="#000" stroke-width="1.25" fill="none"/>
<rect x="369.8" y="28.6" width="4.4" height="4.4" fill="#fff" stroke="#000" stroke-width="1.1"/>
<path d="M369.2 30.8H374.8M372 28V33.6M369.9 28.7L374.1 32.9M369.9 32.9L374.1 28.7" stroke="#000" stroke-width="1.25" fill="none"/>
<path d="M33.2 195 L34.2 194.77 L35.21 194.54 L36.21 194.32 L37.21 194.1 L38.22 193.88 L39.22 193.66 L40.22 193.45 L41.22 193.25 L42.23 193.05 L43.23 192.86 L44.23 192.68 L45.24 192.51 L46.24 192.35 L47.24 192.2 L48.25 192.06 L49.25 191.94 L50.25 191.83 L51.25 191.73 L52.26 191.65 L53.26 191.59 L54.26 191.54 L55.27 191.51 L56.27 191.5 L57.27 191.51 L58.28 191.54 L59.28 191.59 L60.28 191.67 L61.28 191.76 L62.29 191.88 L63.29 192.01 L64.29 192.16 L65.3 192.32 L66.3 192.5 L67.3 192.69 L68.31 192.9 L69.31 193.11 L70.31 193.32 L71.32 193.55 L72.32 193.78 L73.32 194.01 L74.32 194.25 L75.33 194.48 L76.33 194.71 L77.33 194.94 L78.34 195.17 L79.34 195.39 L80.34 195.6 L81.35 195.81 L82.35 196 L83.35 196.19 L84.35 196.35 L85.36 196.51 L86.36 196.65 L87.36 196.77 L88.37 196.87 L89.37 196.97 L90.37 197.04 L91.38 197.1 L92.38 197.15 L93.38 197.19 L94.38 197.21 L95.39 197.23 L96.39 197.23 L97.39 197.23 L98.4 197.22 L99.4 197.2 L100.4 197.17 L101.41 197.14 L102.41 197.1 L103.41 197.06 L104.42 197.01 L105.42 196.96 L106.42 196.91 L107.42 196.86 L108.43 196.81 L109.43 196.76 L110.43 196.71 L111.44 196.66 L112.44 196.61 L113.44 196.57 L114.45 196.53 L115.45 196.49 L116.45 196.46 L117.45 196.43 L118.46 196.41 L119.46 196.38 L120.46 196.36 L121.47 196.34 L122.47 196.32 L123.47 196.31 L124.48 196.3 L125.48 196.28 L126.48 196.27 L127.48 196.27 L128.49 196.26 L129.49 196.25 L130.49 196.25 L131.5 196.24 L132.5 196.23 L133.5 196.23 L134.51 196.23 L135.51 196.22 L136.51 196.22 L137.52 196.21 L138.52 196.2 L139.52 196.2 L140.52 196.19 L141.53 196.18 L142.53 196.17 L143.53 196.16 L144.54 196.15 L145.54 196.14 L146.54 196.12 L147.55 196.11 L148.55 196.1 L149.55 196.08 L150.55 196.07 L151.56 196.05 L152.56 196.04 L153.56 196.02 L154.57 196 L155.57 195.99 L156.57 195.97 L157.58 195.95 L158.58 195.93 L159.58 195.91 L160.58 195.89 L161.59 195.88 L162.59 195.86 L163.59 195.84 L164.6 195.82 L165.6 195.8" fill="none" stroke="#000" stroke-width="1.15" stroke-linejoin="round"/>
<path d="M33.2 195 L34.2 195.24 L35.21 195.47 L36.21 195.71 L37.22 195.94 L38.22 196.17 L39.22 196.41 L40.23 196.63 L41.23 196.86 L42.23 197.09 L43.24 197.31 L44.24 197.52 L45.25 197.74 L46.25 197.95 L47.25 198.15 L48.26 198.35 L49.26 198.55 L50.26 198.74 L51.27 198.92 L52.27 199.1 L53.28 199.27 L54.28 199.43 L55.28 199.59 L56.29 199.74 L57.29 199.88 L58.29 200.02 L59.3 200.14 L60.3 200.26 L61.31 200.36 L62.31 200.46 L63.31 200.55 L64.32 200.63 L65.32 200.71 L66.33 200.77 L67.33 200.83 L68.33 200.87 L69.34 200.92 L70.34 200.95 L71.34 200.97 L72.35 200.99 L73.35 201 L74.36 201.01 L75.36 201.01 L76.36 201 L77.37 200.98 L78.37 200.96 L79.37 200.93 L80.38 200.9 L81.38 200.86 L82.39 200.81 L83.39 200.76 L84.39 200.7 L85.4 200.64 L86.4 200.57 L87.4 200.5 L88.41 200.42 L89.41 200.34 L90.42 200.26 L91.42 200.18 L92.42 200.09 L93.43 200 L94.43 199.91 L95.43 199.82 L96.44 199.73 L97.44 199.64 L98.45 199.56 L99.45 199.47 L100.45 199.39 L101.46 199.31 L102.46 199.23 L103.47 199.16 L104.47 199.09 L105.47 199.03 L106.48 198.98 L107.48 198.93 L108.48 198.89 L109.49 198.85 L110.49 198.83 L111.5 198.81 L112.5 198.8 L113.5 198.8 L114.51 198.81 L115.51 198.83 L116.51 198.87 L117.52 198.9 L118.52 198.95 L119.53 199.01 L120.53 199.08 L121.53 199.15 L122.54 199.23 L123.54 199.32 L124.54 199.41 L125.55 199.52 L126.55 199.63 L127.56 199.74 L128.56 199.87 L129.56 200 L130.57 200.13 L131.57 200.27 L132.57 200.42 L133.58 200.57 L134.58 200.73 L135.59 200.89 L136.59 201.05 L137.59 201.22 L138.6 201.39 L139.6 201.57 L140.61 201.75 L141.61 201.94 L142.61 202.12 L143.62 202.31 L144.62 202.51 L145.62 202.7 L146.63 202.9 L147.63 203.1 L148.64 203.3 L149.64 203.51 L150.64 203.72 L151.65 203.93 L152.65 204.14 L153.65 204.35 L154.66 204.57 L155.66 204.78 L156.67 205 L157.67 205.22 L158.67 205.44 L159.68 205.66 L160.68 205.88 L161.68 206.11 L162.69 206.33 L163.69 206.55 L164.7 206.78 L165.7 207" fill="none" stroke="#000" stroke-width="1.15" stroke-linejoin="round"/>
<path d="M33.2 195 L34.21 194.91 L35.21 194.83 L36.22 194.75 L37.22 194.67 L38.23 194.6 L39.24 194.54 L40.24 194.48 L41.25 194.44 L42.25 194.42 L43.26 194.4 L44.27 194.41 L45.27 194.43 L46.28 194.47 L47.28 194.54 L48.29 194.62 L49.3 194.73 L50.3 194.87 L51.31 195.04 L52.32 195.24 L53.32 195.46 L54.33 195.73 L55.33 196.02 L56.34 196.35 L57.35 196.73 L58.35 197.14 L59.36 197.59 L60.36 198.08 L61.37 198.62 L62.38 199.2 L63.38 199.82 L64.39 200.47 L65.39 201.15 L66.4 201.87 L67.41 202.62 L68.41 203.4 L69.42 204.2 L70.42 205.03 L71.43 205.87 L72.44 206.74 L73.44 207.62 L74.45 208.52 L75.45 209.43 L76.46 210.35 L77.47 211.28 L78.47 212.22 L79.48 213.16 L80.48 214.11 L81.49 215.05 L82.5 215.99 L83.5 216.93 L84.51 217.86 L85.52 218.78 L86.52 219.69 L87.53 220.59 L88.53 221.48 L89.54 222.35 L90.55 223.21 L91.55 224.06 L92.56 224.89 L93.56 225.71 L94.57 226.51 L95.58 227.3 L96.58 228.08 L97.59 228.84 L98.59 229.58 L99.6 230.31 L100.61 231.02 L101.61 231.71 L102.62 232.39 L103.62 233.05 L104.63 233.69 L105.64 234.32 L106.64 234.92 L107.65 235.51 L108.65 236.08 L109.66 236.62 L110.67 237.15 L111.67 237.66 L112.68 238.15 L113.68 238.62 L114.69 239.06 L115.7 239.49 L116.7 239.9 L117.71 240.29 L118.72 240.67 L119.72 241.03 L120.73 241.38 L121.73 241.71 L122.74 242.03 L123.75 242.34 L124.75 242.63 L125.76 242.92 L126.76 243.2 L127.77 243.47 L128.78 243.73 L129.78 243.99 L130.79 244.24 L131.79 244.48 L132.8 244.73 L133.81 244.97 L134.81 245.21 L135.82 245.44 L136.82 245.68 L137.83 245.92 L138.84 246.16 L139.84 246.41 L140.85 246.66 L141.85 246.91 L142.86 247.16 L143.87 247.42 L144.87 247.68 L145.88 247.94 L146.88 248.21 L147.89 248.48 L148.9 248.75 L149.9 249.02 L150.91 249.3 L151.92 249.58 L152.92 249.86 L153.93 250.14 L154.93 250.42 L155.94 250.71 L156.95 250.99 L157.95 251.28 L158.96 251.57 L159.96 251.85 L160.97 252.14 L161.98 252.43 L162.98 252.73 L163.99 253.02 L164.99 253.31 L166 253.6" fill="none" stroke="#000" stroke-width="1.15" stroke-linejoin="round"/>
<path d="M33.2 195 L34.21 196.31 L35.21 197.61 L36.22 198.92 L37.22 200.23 L38.23 201.54 L39.24 202.86 L40.24 204.18 L41.25 205.51 L42.25 206.84 L43.26 208.18 L44.27 209.52 L45.27 210.88 L46.28 212.24 L47.28 213.62 L48.29 215 L49.3 216.39 L50.3 217.8 L51.31 219.22 L52.32 220.65 L53.32 222.1 L54.33 223.56 L55.33 225.04 L56.34 226.54 L57.35 228.05 L58.35 229.58 L59.36 231.12 L60.36 232.69 L61.37 234.28 L62.38 235.88 L63.38 237.49 L64.39 239.11 L65.39 240.73 L66.4 242.36 L67.41 243.99 L68.41 245.61 L69.42 247.23 L70.42 248.85 L71.43 250.45 L72.44 252.03 L73.44 253.6 L74.45 255.15 L75.45 256.68 L76.46 258.18 L77.47 259.65 L78.47 261.09 L79.48 262.49 L80.48 263.86 L81.49 265.19 L82.5 266.48 L83.5 267.71 L84.51 268.9 L85.52 270.04 L86.52 271.13 L87.53 272.16 L88.53 273.13 L89.54 274.05 L90.55 274.92 L91.55 275.74 L92.56 276.51 L93.56 277.23 L94.57 277.92 L95.58 278.56 L96.58 279.16 L97.59 279.73 L98.59 280.26 L99.6 280.75 L100.61 281.22 L101.61 281.65 L102.62 282.05 L103.62 282.43 L104.63 282.79 L105.64 283.12 L106.64 283.44 L107.65 283.73 L108.65 284.01 L109.66 284.27 L110.67 284.52 L111.67 284.76 L112.68 285 L113.68 285.22 L114.69 285.44 L115.7 285.65 L116.7 285.85 L117.71 286.05 L118.72 286.25 L119.72 286.43 L120.73 286.61 L121.73 286.79 L122.74 286.96 L123.75 287.12 L124.75 287.28 L125.76 287.43 L126.76 287.58 L127.77 287.72 L128.78 287.86 L129.78 287.99 L130.79 288.12 L131.79 288.24 L132.8 288.36 L133.81 288.47 L134.81 288.58 L135.82 288.69 L136.82 288.79 L137.83 288.89 L138.84 288.98 L139.84 289.08 L140.85 289.16 L141.85 289.25 L142.86 289.33 L143.87 289.41 L144.87 289.48 L145.88 289.55 L146.88 289.62 L147.89 289.69 L148.9 289.75 L149.9 289.81 L150.91 289.87 L151.92 289.93 L152.92 289.99 L153.93 290.04 L154.93 290.09 L155.94 290.14 L156.95 290.19 L157.95 290.24 L158.96 290.29 L159.96 290.33 L160.97 290.38 L161.98 290.42 L162.98 290.47 L163.99 290.51 L164.99 290.56 L166 290.6" fill="none" stroke="#000" stroke-width="1.15" stroke-linejoin="round" stroke-dasharray="3.6 2.4"/>
<path d="M33.2 195 L34.21 196.2 L35.21 197.41 L36.22 198.62 L37.22 199.83 L38.23 201.05 L39.24 202.28 L40.24 203.51 L41.25 204.75 L42.25 206.01 L43.26 207.28 L44.27 208.56 L45.27 209.85 L46.28 211.16 L47.28 212.49 L48.29 213.84 L49.3 215.21 L50.3 216.61 L51.31 218.02 L52.32 219.46 L53.32 220.93 L54.33 222.43 L55.33 223.95 L56.34 225.5 L57.35 227.09 L58.35 228.71 L59.36 230.36 L60.36 232.05 L61.37 233.77 L62.38 235.52 L63.38 237.3 L64.39 239.09 L65.39 240.9 L66.4 242.71 L67.41 244.54 L68.41 246.36 L69.42 248.19 L70.42 250 L71.43 251.81 L72.44 253.6 L73.44 255.37 L74.45 257.11 L75.45 258.83 L76.46 260.51 L77.47 262.16 L78.47 263.76 L79.48 265.32 L80.48 266.83 L81.49 268.28 L82.5 269.67 L83.5 271 L84.51 272.26 L85.52 273.45 L86.52 274.57 L87.53 275.6 L88.53 276.56 L89.54 277.46 L90.55 278.28 L91.55 279.04 L92.56 279.74 L93.56 280.37 L94.57 280.96 L95.58 281.49 L96.58 281.97 L97.59 282.41 L98.59 282.8 L99.6 283.16 L100.61 283.48 L101.61 283.76 L102.62 284.02 L103.62 284.24 L104.63 284.45 L105.64 284.63 L106.64 284.8 L107.65 284.95 L108.65 285.09 L109.66 285.22 L110.67 285.35 L111.67 285.47 L112.68 285.6 L113.68 285.73 L114.69 285.86 L115.7 286 L116.7 286.14 L117.71 286.28 L118.72 286.43 L119.72 286.58 L120.73 286.73 L121.73 286.88 L122.74 287.03 L123.75 287.19 L124.75 287.34 L125.76 287.49 L126.76 287.64 L127.77 287.79 L128.78 287.94 L129.78 288.09 L130.79 288.24 L131.79 288.38 L132.8 288.52 L133.81 288.66 L134.81 288.79 L135.82 288.92 L136.82 289.05 L137.83 289.17 L138.84 289.28 L139.84 289.39 L140.85 289.49 L141.85 289.59 L142.86 289.69 L143.87 289.77 L144.87 289.86 L145.88 289.94 L146.88 290.01 L147.89 290.08 L148.9 290.15 L149.9 290.21 L150.91 290.27 L151.92 290.33 L152.92 290.38 L153.93 290.43 L154.93 290.48 L155.94 290.52 L156.95 290.57 L157.95 290.61 L158.96 290.65 L159.96 290.69 L160.97 290.73 L161.98 290.76 L162.98 290.8 L163.99 290.83 L164.99 290.87 L166 290.9" fill="none" stroke="#000" stroke-width="1.15" stroke-linejoin="round"/>
<rect x="57.1" y="198.4" width="5.4" height="5.2" fill="#000"/>
<rect x="83.3" y="198.7" width="5.4" height="5.2" fill="#000"/>
<rect x="136.5" y="199.4" width="5.4" height="5.2" fill="#000"/>
<rect x="163" y="204.7" width="5.4" height="5.2" fill="#000"/>
<path d="M59.8 194.6L63.2 201.2L56.4 201.2Z" fill="#000"/>
<path d="M86.2 216L89.6 222.6L82.8 222.6Z" fill="#000"/>
<path d="M113 235L116.4 241.6L109.6 241.6Z" fill="#000"/>
<path d="M139.4 243L142.8 249.6L136 249.6Z" fill="#000"/>
<path d="M166 250.4L169.4 257L162.6 257Z" fill="#000"/>
<path d="M59.4 185.6L62.3 191.2L56.5 191.2Z" fill="#fff" stroke="#000" stroke-width="1.1" stroke-linejoin="miter"/>
<path d="M86 194.4L88.9 200L83.1 200Z" fill="#fff" stroke="#000" stroke-width="1.1" stroke-linejoin="miter"/>
<path d="M112.7 194.2L115.6 199.8L109.8 199.8Z" fill="#fff" stroke="#000" stroke-width="1.1" stroke-linejoin="miter"/>
<path d="M139 193.4L141.9 199L136.1 199Z" fill="#fff" stroke="#000" stroke-width="1.1" stroke-linejoin="miter"/>
<path d="M165.6 192.9L168.5 198.5L162.7 198.5Z" fill="#fff" stroke="#000" stroke-width="1.1" stroke-linejoin="miter"/>
<ellipse cx="59.5" cy="232.2" rx="2.35" ry="2.75" fill="#fff" stroke="#000" stroke-width="1.1"/>
<ellipse cx="86.1" cy="272.6" rx="2.35" ry="2.75" fill="#fff" stroke="#000" stroke-width="1.1"/>
<ellipse cx="112.7" cy="285.2" rx="2.35" ry="2.75" fill="#fff" stroke="#000" stroke-width="1.1"/>
<ellipse cx="139" cy="288.6" rx="2.35" ry="2.75" fill="#fff" stroke="#000" stroke-width="1.1"/>
<ellipse cx="166" cy="290.2" rx="2.35" ry="2.75" fill="#fff" stroke="#000" stroke-width="1.1"/>
<ellipse cx="59.5" cy="230.8" rx="2.8" ry="3.2" fill="#000"/>
<ellipse cx="86" cy="275" rx="2.8" ry="3.2" fill="#000"/>
<ellipse cx="112.7" cy="286.3" rx="2.8" ry="3.2" fill="#000"/>
<ellipse cx="139" cy="289.6" rx="2.8" ry="3.2" fill="#000"/>
<ellipse cx="166" cy="291.1" rx="2.8" ry="3.2" fill="#000"/>
<rect x="30.4" y="192.4" width="5.6" height="5.2" fill="#000"/>
<path d="M209 193.5 L210 193.63 L211 193.76 L212.01 193.89 L213.01 194.02 L214.01 194.15 L215.01 194.28 L216.02 194.41 L217.02 194.55 L218.02 194.68 L219.02 194.81 L220.02 194.94 L221.03 195.08 L222.03 195.21 L223.03 195.35 L224.03 195.48 L225.04 195.62 L226.04 195.76 L227.04 195.9 L228.04 196.04 L229.04 196.18 L230.05 196.32 L231.05 196.47 L232.05 196.61 L233.05 196.76 L234.06 196.91 L235.06 197.06 L236.06 197.21 L237.06 197.36 L238.06 197.52 L239.07 197.67 L240.07 197.82 L241.07 197.97 L242.07 198.12 L243.08 198.27 L244.08 198.41 L245.08 198.55 L246.08 198.68 L247.08 198.81 L248.09 198.93 L249.09 199.04 L250.09 199.14 L251.09 199.24 L252.1 199.32 L253.1 199.39 L254.1 199.45 L255.1 199.5 L256.1 199.54 L257.11 199.57 L258.11 199.58 L259.11 199.58 L260.11 199.58 L261.12 199.56 L262.12 199.54 L263.12 199.51 L264.12 199.48 L265.12 199.44 L266.13 199.39 L267.13 199.35 L268.13 199.3 L269.13 199.25 L270.14 199.19 L271.14 199.14 L272.14 199.09 L273.14 199.04 L274.14 199 L275.15 198.96 L276.15 198.92 L277.15 198.89 L278.15 198.88 L279.16 198.87 L280.16 198.87 L281.16 198.88 L282.16 198.91 L283.16 198.94 L284.17 199 L285.17 199.06 L286.17 199.13 L287.17 199.22 L288.18 199.31 L289.18 199.41 L290.18 199.52 L291.18 199.64 L292.18 199.76 L293.19 199.91 L294.19 200.07 L295.19 200.27 L296.19 200.49 L297.2 200.76 L298.2 201.06 L299.2 201.41 L300.2 201.8 L301.2 202.22 L302.21 202.66 L303.21 203.11 L304.21 203.57 L305.21 204.03 L306.22 204.49 L307.22 204.93 L308.22 205.34 L309.22 205.73 L310.22 206.07 L311.23 206.38 L312.23 206.65 L313.23 206.89 L314.23 207.11 L315.24 207.32 L316.24 207.51 L317.24 207.71 L318.24 207.9 L319.24 208.1 L320.25 208.31 L321.25 208.51 L322.25 208.72 L323.25 208.94 L324.26 209.15 L325.26 209.37 L326.26 209.6 L327.26 209.82 L328.26 210.05 L329.27 210.28 L330.27 210.51 L331.27 210.74 L332.27 210.98 L333.28 211.22 L334.28 211.45 L335.28 211.69 L336.28 211.94 L337.28 212.18 L338.29 212.42 L339.29 212.67 L340.29 212.91 L341.29 213.16 L342.3 213.41 L343.3 213.65 L344.3 213.9" fill="none" stroke="#000" stroke-width="1.15" stroke-linejoin="round"/>
<path d="M209 193.5 L210 193.76 L211 194.02 L212.01 194.28 L213.01 194.53 L214.01 194.79 L215.01 195.04 L216.02 195.3 L217.02 195.55 L218.02 195.79 L219.02 196.04 L220.02 196.28 L221.03 196.52 L222.03 196.75 L223.03 196.98 L224.03 197.2 L225.04 197.42 L226.04 197.63 L227.04 197.84 L228.04 198.05 L229.04 198.24 L230.05 198.43 L231.05 198.61 L232.05 198.79 L233.05 198.96 L234.06 199.11 L235.06 199.27 L236.06 199.41 L237.06 199.54 L238.06 199.67 L239.07 199.79 L240.07 199.9 L241.07 200 L242.07 200.11 L243.08 200.21 L244.08 200.3 L245.08 200.39 L246.08 200.49 L247.08 200.58 L248.09 200.67 L249.09 200.77 L250.09 200.86 L251.09 200.96 L252.1 201.07 L253.1 201.18 L254.1 201.29 L255.1 201.41 L256.1 201.54 L257.11 201.68 L258.11 201.82 L259.11 201.96 L260.11 202.11 L261.12 202.27 L262.12 202.42 L263.12 202.58 L264.12 202.73 L265.12 202.89 L266.13 203.04 L267.13 203.19 L268.13 203.34 L269.13 203.48 L270.14 203.62 L271.14 203.75 L272.14 203.88 L273.14 204 L274.14 204.11 L275.15 204.23 L276.15 204.33 L277.15 204.44 L278.15 204.54 L279.16 204.64 L280.16 204.73 L281.16 204.82 L282.16 204.91 L283.16 205 L284.17 205.09 L285.17 205.18 L286.17 205.27 L287.17 205.35 L288.18 205.44 L289.18 205.53 L290.18 205.62 L291.18 205.71 L292.18 205.8 L293.19 205.89 L294.19 205.98 L295.19 206.06 L296.19 206.14 L297.2 206.22 L298.2 206.29 L299.2 206.35 L300.2 206.41 L301.2 206.46 L302.21 206.5 L303.21 206.54 L304.21 206.57 L305.21 206.61 L306.22 206.64 L307.22 206.68 L308.22 206.73 L309.22 206.79 L310.22 206.85 L311.23 206.93 L312.23 207.02 L313.23 207.13 L314.23 207.25 L315.24 207.39 L316.24 207.54 L317.24 207.7 L318.24 207.88 L319.24 208.06 L320.25 208.25 L321.25 208.45 L322.25 208.65 L323.25 208.86 L324.26 209.08 L325.26 209.31 L326.26 209.54 L327.26 209.78 L328.26 210.02 L329.27 210.27 L330.27 210.53 L331.27 210.78 L332.27 211.05 L333.28 211.31 L334.28 211.58 L335.28 211.85 L336.28 212.13 L337.28 212.41 L338.29 212.69 L339.29 212.97 L340.29 213.25 L341.29 213.54 L342.3 213.83 L343.3 214.11 L344.3 214.4" fill="none" stroke="#000" stroke-width="1.15" stroke-linejoin="round"/>
<path d="M209 193.5 L210 193.78 L211.01 194.07 L212.01 194.35 L213.02 194.64 L214.02 194.92 L215.03 195.21 L216.03 195.5 L217.04 195.79 L218.04 196.08 L219.04 196.38 L220.05 196.68 L221.05 196.98 L222.06 197.28 L223.06 197.59 L224.07 197.9 L225.07 198.22 L226.08 198.54 L227.08 198.86 L228.08 199.19 L229.09 199.53 L230.09 199.87 L231.1 200.22 L232.1 200.57 L233.11 200.93 L234.11 201.29 L235.12 201.67 L236.12 202.05 L237.12 202.43 L238.13 202.83 L239.13 203.23 L240.14 203.64 L241.14 204.06 L242.15 204.5 L243.15 204.94 L244.16 205.39 L245.16 205.85 L246.16 206.33 L247.17 206.81 L248.17 207.31 L249.18 207.83 L250.18 208.35 L251.19 208.89 L252.19 209.45 L253.2 210.02 L254.2 210.6 L255.2 211.2 L256.21 211.82 L257.21 212.45 L258.22 213.1 L259.22 213.77 L260.23 214.46 L261.23 215.16 L262.24 215.89 L263.24 216.63 L264.24 217.39 L265.25 218.18 L266.25 218.97 L267.26 219.79 L268.26 220.62 L269.27 221.46 L270.27 222.31 L271.28 223.17 L272.28 224.04 L273.28 224.92 L274.29 225.8 L275.29 226.68 L276.3 227.57 L277.3 228.46 L278.31 229.34 L279.31 230.23 L280.32 231.11 L281.32 231.98 L282.32 232.85 L283.33 233.71 L284.33 234.56 L285.34 235.4 L286.34 236.23 L287.35 237.04 L288.35 237.83 L289.36 238.61 L290.36 239.37 L291.36 240.11 L292.37 240.83 L293.37 241.53 L294.38 242.21 L295.38 242.88 L296.39 243.52 L297.39 244.16 L298.4 244.77 L299.4 245.37 L300.4 245.96 L301.41 246.53 L302.41 247.09 L303.42 247.63 L304.42 248.17 L305.43 248.69 L306.43 249.2 L307.44 249.7 L308.44 250.2 L309.44 250.68 L310.45 251.16 L311.45 251.63 L312.46 252.09 L313.46 252.54 L314.47 253 L315.47 253.44 L316.48 253.88 L317.48 254.32 L318.48 254.76 L319.49 255.19 L320.49 255.62 L321.5 256.05 L322.5 256.47 L323.51 256.89 L324.51 257.31 L325.52 257.73 L326.52 258.15 L327.52 258.56 L328.53 258.97 L329.53 259.38 L330.54 259.79 L331.54 260.2 L332.55 260.6 L333.55 261.01 L334.56 261.41 L335.56 261.81 L336.56 262.21 L337.57 262.61 L338.57 263.01 L339.58 263.41 L340.58 263.81 L341.59 264.21 L342.59 264.61 L343.6 265 L344.6 265.4" fill="none" stroke="#000" stroke-width="1.15" stroke-linejoin="round"/>
<path d="M209 193.5 L210 194.76 L211.01 196.02 L212.01 197.29 L213.01 198.55 L214.01 199.82 L215.02 201.09 L216.02 202.37 L217.02 203.65 L218.03 204.93 L219.03 206.23 L220.03 207.53 L221.04 208.84 L222.04 210.15 L223.04 211.48 L224.04 212.82 L225.05 214.17 L226.05 215.53 L227.05 216.9 L228.06 218.28 L229.06 219.68 L230.06 221.1 L231.07 222.52 L232.07 223.97 L233.07 225.43 L234.07 226.91 L235.08 228.41 L236.08 229.92 L237.08 231.46 L238.09 233.01 L239.09 234.57 L240.09 236.14 L241.09 237.71 L242.1 239.29 L243.1 240.86 L244.1 242.43 L245.11 243.99 L246.11 245.53 L247.11 247.05 L248.12 248.56 L249.12 250.04 L250.12 251.49 L251.12 252.9 L252.13 254.29 L253.13 255.63 L254.13 256.93 L255.14 258.18 L256.14 259.38 L257.14 260.53 L258.15 261.62 L259.15 262.65 L260.15 263.61 L261.15 264.5 L262.16 265.32 L263.16 266.07 L264.16 266.73 L265.17 267.32 L266.17 267.83 L267.17 268.29 L268.17 268.69 L269.18 269.05 L270.18 269.38 L271.18 269.69 L272.19 269.98 L273.19 270.27 L274.19 270.56 L275.2 270.86 L276.2 271.19 L277.2 271.55 L278.2 271.95 L279.21 272.4 L280.21 272.91 L281.21 273.49 L282.22 274.11 L283.22 274.78 L284.22 275.47 L285.23 276.18 L286.23 276.89 L287.23 277.59 L288.23 278.27 L289.24 278.91 L290.24 279.51 L291.24 280.05 L292.25 280.53 L293.25 280.95 L294.25 281.32 L295.25 281.63 L296.26 281.9 L297.26 282.13 L298.26 282.31 L299.27 282.45 L300.27 282.56 L301.27 282.63 L302.28 282.68 L303.28 282.69 L304.28 282.68 L305.28 282.65 L306.29 282.6 L307.29 282.53 L308.29 282.45 L309.3 282.36 L310.3 282.26 L311.3 282.16 L312.31 282.05 L313.31 281.95 L314.31 281.85 L315.31 281.75 L316.32 281.67 L317.32 281.6 L318.32 281.54 L319.33 281.5 L320.33 281.47 L321.33 281.46 L322.33 281.46 L323.34 281.47 L324.34 281.49 L325.34 281.53 L326.35 281.58 L327.35 281.63 L328.35 281.7 L329.36 281.77 L330.36 281.86 L331.36 281.95 L332.36 282.05 L333.37 282.15 L334.37 282.26 L335.37 282.38 L336.38 282.5 L337.38 282.63 L338.38 282.76 L339.39 282.9 L340.39 283.03 L341.39 283.17 L342.39 283.31 L343.4 283.46 L344.4 283.6" fill="none" stroke="#000" stroke-width="1.15" stroke-linejoin="round" stroke-dasharray="3.6 2.4"/>
<path d="M209 193.5 L210 195.12 L211.01 196.74 L212.01 198.36 L213.01 199.98 L214.01 201.6 L215.02 203.22 L216.02 204.84 L217.02 206.46 L218.03 208.07 L219.03 209.69 L220.03 211.3 L221.04 212.92 L222.04 214.53 L223.04 216.14 L224.04 217.74 L225.05 219.35 L226.05 220.96 L227.05 222.56 L228.06 224.16 L229.06 225.76 L230.06 227.35 L231.07 228.95 L232.07 230.54 L233.07 232.12 L234.07 233.71 L235.08 235.29 L236.08 236.87 L237.08 238.44 L238.09 240.01 L239.09 241.58 L240.09 243.13 L241.09 244.67 L242.1 246.19 L243.1 247.7 L244.1 249.19 L245.11 250.65 L246.11 252.1 L247.11 253.51 L248.12 254.9 L249.12 256.26 L250.12 257.58 L251.12 258.87 L252.13 260.12 L253.13 261.33 L254.13 262.5 L255.14 263.62 L256.14 264.7 L257.14 265.72 L258.15 266.7 L259.15 267.62 L260.15 268.49 L261.15 269.29 L262.16 270.04 L263.16 270.72 L264.16 271.34 L265.17 271.89 L266.17 272.39 L267.17 272.84 L268.17 273.24 L269.18 273.6 L270.18 273.93 L271.18 274.23 L272.19 274.5 L273.19 274.77 L274.19 275.02 L275.2 275.27 L276.2 275.52 L277.2 275.78 L278.2 276.06 L279.21 276.35 L280.21 276.67 L281.21 277.02 L282.22 277.39 L283.22 277.78 L284.22 278.17 L285.23 278.57 L286.23 278.97 L287.23 279.36 L288.23 279.74 L289.24 280.09 L290.24 280.41 L291.24 280.7 L292.25 280.96 L293.25 281.19 L294.25 281.38 L295.25 281.55 L296.26 281.7 L297.26 281.82 L298.26 281.91 L299.27 281.99 L300.27 282.04 L301.27 282.08 L302.28 282.1 L303.28 282.11 L304.28 282.1 L305.28 282.08 L306.29 282.06 L307.29 282.02 L308.29 281.98 L309.3 281.93 L310.3 281.88 L311.3 281.83 L312.31 281.78 L313.31 281.74 L314.31 281.69 L315.31 281.65 L316.32 281.62 L317.32 281.6 L318.32 281.59 L319.33 281.58 L320.33 281.59 L321.33 281.6 L322.33 281.63 L323.34 281.66 L324.34 281.7 L325.34 281.75 L326.35 281.8 L327.35 281.87 L328.35 281.94 L329.36 282.01 L330.36 282.09 L331.36 282.18 L332.36 282.27 L333.37 282.36 L334.37 282.46 L335.37 282.56 L336.38 282.67 L337.38 282.78 L338.38 282.89 L339.39 283.01 L340.39 283.12 L341.39 283.24 L342.39 283.36 L343.4 283.48 L344.4 283.6" fill="none" stroke="#000" stroke-width="1.15" stroke-linejoin="round"/>
<path d="M290.3 212.2L293.2 206.6L287.4 206.6Z" fill="#fff" stroke="#000" stroke-width="1.1"/>
<path d="M317.2 209.8L320.1 204.2L314.3 204.2Z" fill="#fff" stroke="#000" stroke-width="1.1"/>
<path d="M344.3 220.4L347.2 214.8L341.4 214.8Z" fill="#fff" stroke="#000" stroke-width="1.1"/>
<rect x="233.35" y="193.4" width="5.3" height="6" fill="#000"/>
<rect x="260.75" y="200" width="5.3" height="6" fill="#000"/>
<rect x="287.55" y="193.3" width="5.3" height="6" fill="#000"/>
<rect x="314.55" y="207.6" width="5.3" height="6" fill="#000"/>
<rect x="341.65" y="210.6" width="5.3" height="6" fill="#000"/>
<path d="M236 205.8L239.4 199.2L232.6 199.2Z" fill="#000"/>
<path d="M263.2 220.4L266.6 213.8L259.8 213.8Z" fill="#000"/>
<path d="M290.4 243.2L293.8 236.6L287 236.6Z" fill="#000"/>
<path d="M317.2 258L320.6 251.4L313.8 251.4Z" fill="#000"/>
<path d="M344.6 269.2L348 262.6L341.2 262.6Z" fill="#000"/>
<ellipse cx="235.9" cy="229.6" rx="2.35" ry="2.75" fill="#fff" stroke="#000" stroke-width="1.1"/>
<ellipse cx="263.6" cy="266.8" rx="2.35" ry="2.75" fill="#fff" stroke="#000" stroke-width="1.1"/>
<ellipse cx="236.1" cy="236.9" rx="2.8" ry="3.2" fill="#000"/>
<ellipse cx="263.6" cy="271.1" rx="2.8" ry="3.2" fill="#000"/>
<ellipse cx="290.1" cy="280.9" rx="2.8" ry="3.9" fill="#000"/>
<ellipse cx="317.3" cy="282" rx="3" ry="3.9" fill="#000"/>
<ellipse cx="344.4" cy="283.9" rx="3.2" ry="3.6" fill="#000"/>
<rect x="205.7" y="190.5" width="6.2" height="6" fill="#000"/>
</svg>
</body></html>
